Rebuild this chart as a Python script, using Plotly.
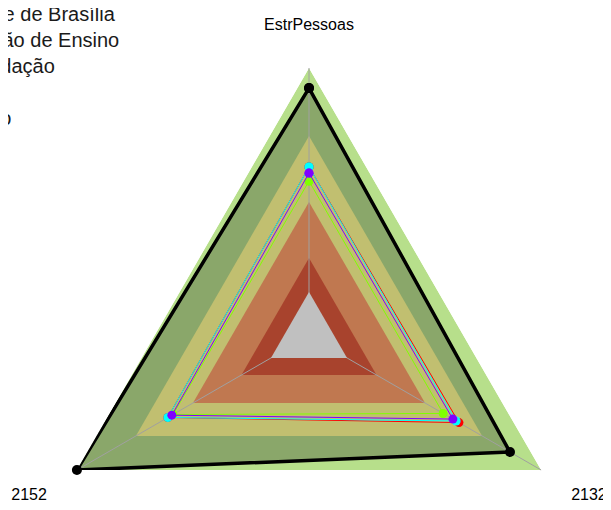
import plotly.graph_objects as go

# eixos do radar
axis_labels = ["EstrPessoas", "2132", "2152"]

# faixas de referencia (% do maximo), da maior para a menor
band_outer = [100, 100, 100]
band_ceiling = [92.5, 86.6, 100]
band_high = [74.6, 74.6, 74.6]
band_mid = [50, 50, 50]
band_low = [29.1, 29.1, 29.1]
band_min = [16.4, 16.4, 16.4]

band_colors = ["#b7df8b", "#8aa76a", "#c1bf70", "#c07850", "#a8432d", "#c0c0c0"]

# series
series_names = [
    "Universidade de Brasília",
    "Administração de Ensino",
    "Núcleo Fundação",
    "Média",
    "Teto Máximo",
]
serie_unb = [63.1, 64.6, 60.8]
serie_ensino = [57.8, 57.8, 58.6]
serie_fundacao = [63.1, 63.4, 60.8]
serie_media = [60.8, 62.0, 59.1]
serie_teto = band_ceiling

series_colors = ["#ff0000", "#80ff00", "#00ffff", "#8000ff", "#000000"]

FONT = "Liberation Sans, Arial, sans-serif"


def closed(vals):
    return list(vals) + [vals[0]]


theta = closed(axis_labels)

fig = go.Figure()

# faixas (polar 1, embaixo)
for vals, color in zip(
    [band_outer, band_ceiling, band_high, band_mid, band_low], band_colors[:5]
):
    fig.add_trace(go.Scatterpolar(
        r=closed(vals), theta=theta, mode="lines", fill="toself",
        fillcolor=color, line=dict(width=0, color=color),
        hoverinfo="skip", showlegend=False, subplot="polar",
    ))

# polar 2 por cima: raios da grade, centro cinza e as linhas
fig.add_trace(go.Scatterpolar(
    r=closed(band_min), theta=theta, mode="lines", fill="toself",
    fillcolor=band_colors[5], line=dict(width=0, color=band_colors[5]),
    hoverinfo="skip", showlegend=False, subplot="polar2",
))

fig.add_trace(go.Scatterpolar(
    r=closed(serie_teto), theta=theta, mode="lines+markers", name=series_names[4],
    line=dict(color=series_colors[4], width=3.5), marker=dict(size=10),
    showlegend=False, cliponaxis=False, subplot="polar2",
))

for name, vals, color in zip(
    series_names[:4],
    [serie_unb, serie_ensino, serie_fundacao, serie_media],
    series_colors[:4],
):
    fig.add_trace(go.Scatterpolar(
        r=closed(vals), theta=theta, mode="lines+markers", name=name,
        line=dict(color=color, width=1), marker=dict(size=9, color=color),
        showlegend=False, cliponaxis=False, subplot="polar2",
    ))

polar_base = dict(
    domain=dict(x=[0, 1], y=[0, 1]),
    gridshape="linear",
    bgcolor="rgba(0,0,0,0)",
    radialaxis=dict(range=[0, 100], visible=False),
)

fig.update_layout(
    width=611,
    height=620,
    paper_bgcolor="white",
    plot_bgcolor="white",
    margin=dict(l=33, r=42, t=60, b=24, autoexpand=False),
    font=dict(family=FONT, size=16, color="black"),
    showlegend=False,
    polar=dict(
        **polar_base,
        angularaxis=dict(
            type="category", categoryarray=axis_labels,
            rotation=90, direction="clockwise",
            showline=False, showgrid=False, showticklabels=False, ticks="",
        ),
    ),
    polar2=dict(
        **polar_base,
        angularaxis=dict(
            type="category", categoryarray=axis_labels,
            rotation=90, direction="clockwise",
            showline=False, showgrid=True, gridcolor="#a0a0a0", gridwidth=1,
            ticks="outside", ticklen=31, tickcolor="rgba(0,0,0,0)",
            tickfont=dict(family=FONT, size=16, color="black"),
        ),
    ),
)

# legenda (cortada na borda esquerda, como no original)
fig.add_annotation(
    xref="paper", yref="paper", x=-0.27, y=1.125,
    xanchor="left", yanchor="top", align="left", showarrow=False,
    text="<br>".join(series_names),
    font=dict(family=FONT, size=20, color="#1a1a1a"),
)

fig.write_html("out.html")
